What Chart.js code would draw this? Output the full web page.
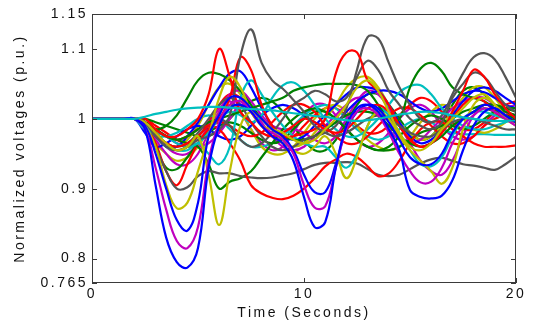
<!DOCTYPE html>
<html>
<head>
<meta charset="utf-8">
<title>Normalized voltages</title>
<script src="https://cdn.jsdelivr.net/npm/chart.js@4.4.1/dist/chart.umd.min.js"></script>
<style>
  html, body { margin: 0; padding: 0; background: #fff; }
  canvas { display: block; }
</style>
</head>
<body>
<canvas id="voltChart" width="534" height="325"></canvas>
<script>
// sample times (s), flat until the fault at 2 s
var time = [0, 1.5, 2, 2.5, 3, 3.5, 4, 4.5, 5, 5.5, 6, 6.5, 7, 7.5, 8, 8.5, 9, 9.5, 10, 10.5, 11, 11.5, 12, 12.5, 13, 13.5, 14, 14.5, 15, 15.5, 16, 16.5, 17, 17.5, 18, 18.5, 19, 19.5, 20];

var xTicks = [0, 10, 20];
var yTicks = [0.765, 0.8, 0.9, 1, 1.1, 1.15];
var yTickLabels = ['0.765', '0.8', '0.9', '1', '1.1', '1.15'];

// bus voltages (p.u.)
var blue1 = [1, 1, 1.0, 0.985, 0.905, 0.83, 0.795, 0.787, 0.815, 0.93, 0.99, 1.015, 1.02, 1.01, 0.99, 0.975, 0.965, 0.94, 0.888, 0.845, 0.852, 0.93, 0.99, 1.015, 1.02, 1.01, 0.985, 0.955, 0.898, 0.888, 0.886, 0.89, 0.912, 0.955, 0.99, 1.01, 1.015, 1.005, 0.995];
var blue2 = [1, 1, 1.0, 0.99, 0.95, 0.9, 0.855, 0.84, 0.88, 0.975, 1.005, 1.03, 1.03, 1.015, 1.0, 0.985, 0.975, 0.955, 0.92, 0.895, 0.895, 0.935, 0.985, 1.01, 1.02, 1.015, 0.995, 0.97, 0.945, 0.935, 0.935, 0.95, 0.98, 1.0, 1.01, 1.02, 1.015, 1.005, 0.995];
var blue3 = [1, 1, 1.0, 0.99, 0.975, 0.96, 0.96, 0.975, 0.995, 1.02, 1.045, 1.065, 1.068, 1.045, 1.015, 0.99, 0.975, 0.97, 0.975, 0.99, 1.005, 1.02, 1.035, 1.045, 1.045, 1.04, 1.02, 0.995, 0.975, 0.965, 0.97, 0.985, 1.005, 1.025, 1.04, 1.045, 1.04, 1.03, 1.02];
var blue4 = [1, 1, 1.0, 0.98, 0.96, 0.965, 0.975, 0.985, 0.99, 0.985, 0.975, 0.97, 0.975, 0.99, 1.005, 1.015, 1.02, 1.015, 1.005, 0.995, 0.99, 0.995, 1.01, 1.025, 1.035, 1.04, 1.04, 1.035, 1.025, 1.015, 1.01, 1.015, 1.025, 1.035, 1.04, 1.038, 1.03, 1.02, 1.015];

var magenta1 = [1, 1, 1.0, 0.985, 0.93, 0.87, 0.825, 0.815, 0.845, 0.94, 0.995, 1.02, 1.025, 1.01, 0.99, 0.98, 0.97, 0.95, 0.905, 0.873, 0.875, 0.93, 0.985, 1.01, 1.015, 1.005, 0.98, 0.95, 0.925, 0.909, 0.91, 0.93, 0.965, 0.99, 1.005, 1.015, 1.01, 1.0, 0.99];
var magenta2 = [1, 1, 1.0, 0.99, 0.97, 0.95, 0.935, 0.935, 0.95, 0.98, 1.01, 1.035, 1.04, 1.025, 1.005, 0.99, 0.985, 0.985, 0.98, 0.97, 0.965, 0.975, 1.0, 1.025, 1.04, 1.035, 1.015, 0.99, 0.965, 0.94, 0.925, 0.92, 0.94, 0.975, 1.005, 1.02, 1.02, 1.01, 1.0];
var magenta3 = [1, 1, 1.0, 0.995, 0.985, 0.975, 0.965, 0.96, 0.96, 0.965, 0.98, 1.0, 1.02, 1.015, 0.995, 0.975, 0.96, 0.955, 0.96, 0.975, 0.99, 1.005, 1.02, 1.03, 1.025, 1.005, 0.985, 0.97, 0.965, 0.97, 0.985, 1.0, 1.015, 1.025, 1.03, 1.03, 1.02, 1.01, 1.005];
var magenta4 = [1, 1, 1.0, 0.99, 0.975, 0.96, 0.95, 0.95, 0.965, 0.99, 1.015, 1.025, 1.01, 0.985, 0.965, 0.955, 0.96, 0.98, 1.005, 1.02, 1.02, 1.005, 0.985, 0.97, 0.96, 0.965, 0.98, 1.0, 1.015, 1.02, 1.01, 0.99, 0.975, 0.97, 0.975, 0.99, 1.005, 1.015, 1.02];

var yellow1 = [1, 1, 1.0, 0.99, 0.96, 0.905, 0.872, 0.88, 0.925, 0.975, 1.03, 1.06, 1.045, 1.01, 0.99, 0.985, 0.98, 0.97, 0.965, 0.97, 0.985, 1.0, 1.02, 1.045, 1.055, 1.04, 1.01, 0.98, 0.96, 0.955, 0.965, 0.985, 1.0, 1.015, 1.03, 1.035, 1.02, 1.0, 0.99];
var yellow2 = [1, 1, 1.0, 0.995, 0.98, 0.965, 0.955, 0.96, 0.975, 0.92, 0.848, 0.925, 0.99, 1.01, 1.0, 0.985, 0.97, 0.955, 0.95, 0.96, 0.975, 0.95, 0.915, 0.945, 0.99, 1.01, 1.0, 0.975, 0.955, 0.94, 0.925, 0.907, 0.93, 0.985, 1.02, 1.03, 1.02, 1.005, 0.995];
var yellow3 = [1, 1, 1.0, 0.995, 0.98, 0.965, 0.96, 0.97, 0.99, 1.02, 1.045, 1.05, 1.035, 1.01, 0.99, 0.975, 0.965, 0.96, 0.965, 0.98, 1.0, 1.02, 1.045, 1.058, 1.06, 1.045, 1.02, 0.995, 0.98, 0.97, 0.975, 0.99, 1.01, 1.03, 1.045, 1.045, 1.03, 1.01, 1.0];
var yellow4 = [1, 1, 1.0, 0.985, 0.965, 0.95, 0.94, 0.945, 0.96, 0.985, 1.01, 1.02, 1.01, 0.985, 0.96, 0.95, 0.95, 0.96, 0.98, 1.0, 1.015, 1.02, 1.01, 0.99, 0.97, 0.96, 0.955, 0.96, 0.975, 0.995, 1.01, 1.02, 1.015, 1.0, 0.985, 0.98, 0.985, 0.995, 1.005];

var green1 = [1, 1, 1.0, 0.995, 0.985, 0.975, 0.97, 0.965, 0.96, 0.935, 0.9, 0.91, 0.915, 0.925, 0.945, 0.965, 0.985, 1.0, 1.01, 1.015, 1.01, 1.0, 0.985, 0.97, 0.96, 0.955, 0.955, 0.96, 0.97, 0.98, 0.985, 0.99, 1.0, 1.01, 1.015, 1.02, 1.02, 1.015, 1.01];
var green2 = [1, 1, 1.0, 0.99, 0.96, 0.93, 0.928, 0.945, 0.965, 0.98, 0.99, 0.995, 0.99, 0.98, 0.97, 0.965, 0.97, 0.985, 1.0, 1.01, 1.01, 1.0, 0.985, 0.97, 0.96, 0.955, 0.96, 0.975, 0.99, 1.0, 1.005, 1.0, 0.99, 0.985, 0.99, 1.0, 1.01, 1.015, 1.015];
var green3 = [1, 1, 1.0, 0.995, 0.985, 0.975, 0.97, 0.975, 0.985, 0.995, 1.0, 1.005, 1.01, 1.015, 1.02, 1.025, 1.03, 1.04, 1.045, 1.048, 1.05, 1.05, 1.05, 1.048, 1.04, 1.02, 1.0, 1.0, 1.045, 1.072, 1.08, 1.068, 1.045, 1.035, 1.03, 1.025, 1.015, 1.01, 1.005];
var green4 = [1, 1, 1.0, 0.995, 0.985, 0.99, 1.005, 1.03, 1.055, 1.066, 1.064, 1.055, 1.04, 1.02, 1.0, 0.985, 0.975, 0.97, 0.97, 0.975, 0.985, 0.995, 1.005, 1.01, 1.01, 1.005, 0.99, 0.975, 0.965, 0.96, 0.965, 0.975, 0.99, 1.0, 1.01, 1.015, 1.01, 1.005, 1.0];
var green5 = [1, 1, 1.0, 1.0, 0.995, 0.99, 0.985, 0.98, 0.975, 0.975, 0.985, 1.0, 1.015, 1.025, 1.03, 1.025, 1.01, 0.99, 0.97, 0.955, 0.955, 0.97, 0.995, 1.02, 1.035, 1.035, 1.02, 1.0, 0.98, 0.97, 0.975, 0.995, 1.02, 1.04, 1.045, 1.035, 1.02, 1.005, 0.995];

var red1 = [1, 1, 1.0, 0.995, 0.985, 0.975, 0.97, 0.975, 0.985, 0.99, 0.985, 0.965, 0.94, 0.905, 0.893, 0.887, 0.885, 0.89, 0.9, 0.915, 0.932, 0.942, 0.95, 0.945, 0.932, 0.918, 0.922, 0.94, 0.965, 0.985, 0.995, 0.995, 0.985, 0.975, 0.965, 0.96, 0.96, 0.96, 0.962];
var red2 = [1, 1, 1.0, 0.99, 0.965, 0.925, 0.905, 0.935, 0.965, 0.985, 0.995, 0.99, 0.98, 0.975, 0.98, 0.995, 1.01, 1.02, 1.02, 1.01, 0.99, 0.975, 0.965, 0.965, 0.975, 0.99, 1.005, 1.015, 1.015, 1.005, 0.99, 0.975, 0.965, 0.965, 0.975, 0.99, 1.0, 1.005, 1.005];
var red3 = [1, 1, 1.0, 1.0, 0.985, 0.975, 0.975, 0.985, 1.0, 1.035, 1.1, 1.06, 1.01, 0.995, 0.98, 0.975, 0.98, 0.99, 1.0, 0.995, 0.985, 0.98, 0.985, 1.0, 1.015, 1.02, 1.01, 0.99, 0.97, 0.96, 0.965, 0.98, 1.0, 1.02, 1.03, 1.025, 1.01, 1.0, 0.995];
var red4 = [1, 1, 1.0, 0.995, 0.98, 0.965, 0.96, 0.965, 0.975, 0.99, 1.0, 1.03, 1.088, 1.07, 1.02, 0.99, 0.975, 0.975, 0.98, 0.985, 1.0, 1.065, 1.095, 1.095, 1.055, 1.04, 1.02, 0.99, 0.97, 0.96, 0.965, 0.98, 1.01, 1.04, 1.07, 1.06, 1.035, 1.015, 1.0];
var red5 = [1, 1, 1.0, 1.0, 0.99, 0.98, 0.97, 0.965, 0.975, 0.995, 1.02, 1.035, 1.03, 1.01, 0.99, 0.975, 0.97, 0.975, 0.99, 1.005, 1.015, 1.015, 1.005, 0.99, 0.98, 0.98, 0.99, 1.005, 1.02, 1.03, 1.025, 1.01, 0.995, 0.985, 0.985, 0.995, 1.01, 1.02, 1.025];

var cyan1 = [1, 1, 1.0, 1.003, 1.007, 1.01, 1.013, 1.015, 1.016, 1.017, 1.017, 1.016, 1.015, 1.014, 1.013, 1.012, 1.01, 1.008, 1.006, 1.004, 1.003, 1.0, 0.998, 0.997, 0.998, 1.0, 1.003, 1.006, 1.008, 1.01, 1.01, 1.008, 1.005, 1.002, 1.0, 0.998, 0.997, 0.997, 0.998];
var cyan2 = [1, 1, 1.0, 0.985, 0.98, 0.975, 0.965, 0.96, 0.965, 0.98, 1.0, 1.01, 1.005, 0.995, 1.005, 1.03, 1.048, 1.052, 1.04, 1.02, 1.0, 0.985, 0.975, 0.975, 0.985, 1.0, 1.02, 1.038, 1.047, 1.048, 1.035, 1.015, 1.0, 0.99, 0.985, 0.985, 0.99, 0.995, 1.0];
var cyan3 = [1, 1, 1.0, 0.99, 0.975, 0.96, 0.955, 0.955, 0.965, 0.95, 0.935, 0.96, 1.03, 1.055, 1.035, 1.01, 0.99, 0.975, 0.965, 0.96, 0.96, 0.945, 0.93, 0.95, 0.99, 1.015, 1.005, 0.98, 0.955, 0.935, 0.932, 0.945, 0.975, 1.0, 1.01, 1.01, 1.005, 1.0, 0.995];
var cyan4 = [1, 1, 1.0, 0.985, 0.975, 0.975, 0.98, 0.99, 1.0, 1.005, 1.0, 0.985, 0.97, 0.96, 0.96, 0.965, 0.975, 0.99, 1.005, 1.015, 1.02, 1.015, 1.0, 0.985, 0.975, 0.97, 0.975, 0.985, 0.995, 1.0, 0.995, 0.985, 0.98, 0.978, 0.978, 0.978, 0.977, 0.977, 0.977];

var gray1 = [1, 1, 1.0, 0.99, 0.96, 0.925, 0.9, 0.902, 0.918, 0.925, 0.922, 0.922, 0.918, 0.916, 0.915, 0.916, 0.919, 0.922, 0.928, 0.934, 0.937, 0.937, 0.938, 0.936, 0.928, 0.92, 0.918, 0.92, 0.928, 0.936, 0.942, 0.944, 0.94, 0.935, 0.933, 0.93, 0.927, 0.935, 0.946];
var gray2 = [1, 1, 1.0, 0.995, 0.975, 0.96, 0.955, 0.96, 0.97, 0.975, 0.985, 1.005, 1.09, 1.128, 1.08, 1.055, 1.043, 1.027, 1.01, 0.99, 0.98, 0.975, 0.98, 0.99, 1.0, 1.005, 1.0, 0.99, 0.98, 0.975, 0.975, 0.985, 0.995, 1.0, 1.0, 0.995, 0.99, 0.985, 0.985];
var gray3 = [1, 1, 1.0, 0.995, 0.98, 0.965, 0.96, 0.965, 0.98, 1.0, 1.02, 1.03, 1.02, 0.995, 0.975, 0.96, 0.955, 0.96, 0.97, 0.975, 0.98, 0.99, 1.015, 1.07, 1.117, 1.115, 1.08, 1.045, 1.02, 1.0, 0.995, 1.005, 1.035, 1.065, 1.088, 1.094, 1.085, 1.06, 1.03];
var gray4 = [1, 1, 1.0, 0.995, 0.975, 0.965, 0.955, 0.96, 0.975, 0.99, 1.0, 0.99, 0.97, 0.96, 0.965, 0.98, 1.0, 1.02, 1.03, 1.04, 1.035, 1.025, 1.03, 1.06, 1.083, 1.07, 1.04, 1.02, 1.0, 0.99, 0.985, 0.995, 1.03, 1.05, 1.066, 1.06, 1.04, 1.02, 1.01];

var BLUE = '#0000ff', GREEN = '#008000', RED = '#ff0000', CYAN = '#00bfbf',
    MAGENTA = '#bf00bf', YELLOW = '#bfbf00', GRAY = '#555555';

// first entry is drawn on top
var lines = [
  [cyan1, CYAN], [blue1, BLUE], [magenta1, MAGENTA], [blue2, BLUE], [yellow1, YELLOW],
  [yellow2, YELLOW], [gray2, GRAY], [red3, RED], [red4, RED], [gray3, GRAY],
  [gray4, GRAY], [green3, GREEN], [green4, GREEN], [cyan2, CYAN], [cyan3, CYAN],
  [red1, RED], [gray1, GRAY], [green1, GREEN], [red2, RED], [green2, GREEN],
  [blue3, BLUE], [blue4, BLUE], [magenta2, MAGENTA], [magenta3, MAGENTA], [yellow3, YELLOW],
  [yellow4, YELLOW], [cyan4, CYAN], [magenta4, MAGENTA], [green5, GREEN], [red5, RED]
];

var datasets = lines.map(function (l) {
  return {
    data: time.map(function (t, i) { return { x: t, y: l[0][i] }; }),
    borderColor: l[1],
    borderWidth: 2.2,
    pointRadius: 0,
    fill: false,
    tension: 0.4
  };
});

var textFont = { family: '"Liberation Sans", Arial, Helvetica, sans-serif', size: 14 };

// the labels are set wide, like the old plotting fonts
var wideText = {
  id: 'wideText',
  beforeUpdate: function (chart) { chart.ctx.letterSpacing = '2.5px'; },
  beforeDraw: function (chart) { chart.ctx.letterSpacing = '2.5px'; }
};

// box round the axes, ticks pointing inward on all four sides
var axisBox = {
  id: 'axisBox',
  afterDraw: function (chart) {
    var c = chart.ctx, a = chart.chartArea;
    var xs = chart.scales.x, ys = chart.scales.y;
    c.save();
    c.strokeStyle = '#3a3a3a';
    c.lineWidth = 1;
    c.strokeRect(a.left + 0.5, a.top + 0.5, a.right - a.left - 1, a.bottom - a.top - 1);
    c.beginPath();
    xTicks.forEach(function (v) {
      var px = Math.round(xs.getPixelForValue(v)) + 0.5;
      c.moveTo(px, a.bottom); c.lineTo(px, a.bottom - 5);
      c.moveTo(px, a.top); c.lineTo(px, a.top + 5);
    });
    yTicks.forEach(function (v) {
      var py = Math.round(ys.getPixelForValue(v)) + 0.5;
      c.moveTo(a.left, py); c.lineTo(a.left + 5, py);
      c.moveTo(a.right, py); c.lineTo(a.right - 5, py);
    });
    c.stroke();
    c.restore();
  }
};

var ctx = document.getElementById('voltChart').getContext('2d');
var chart = new Chart(ctx, {
  type: 'line',
  data: { datasets: datasets },
  options: {
    responsive: false,
    animation: false,
    devicePixelRatio: 1,
    layout: { padding: { top: 14, right: 18, left: 0, bottom: 0 } },
    plugins: {
      legend: { display: false },
      tooltip: { enabled: false }
    },
    scales: {
      x: {
        type: 'linear',
        min: 0,
        max: 20,
        grid: { display: false, drawTicks: false },
        border: { display: false },
        afterBuildTicks: function (scale) {
          scale.ticks = xTicks.map(function (v) { return { value: v }; });
        },
        afterFit: function (scale) { scale.height = 42; },
        ticks: {
          color: '#111',
          font: textFont,
          padding: 3,
          maxRotation: 0,
          autoSkip: false,
          callback: function (v) { return String(v); }
        },
        title: {
          display: true,
          text: 'Time (Seconds)',
          color: '#111',
          font: textFont,
          padding: { top: 0, bottom: 3.5 }
        }
      },
      y: {
        type: 'linear',
        min: 0.765,
        max: 1.15,
        grid: { display: false, drawTicks: false },
        border: { display: false },
        afterBuildTicks: function (scale) {
          scale.ticks = yTicks.map(function (v) { return { value: v }; });
        },
        afterFit: function (scale) { scale.width = 92; },
        ticks: {
          color: '#111',
          font: textFont,
          padding: 4,
          autoSkip: false,
          callback: function (v) {
            var i = yTicks.indexOf(v);
            return i >= 0 ? yTickLabels[i] : '';
          }
        },
        title: {
          display: true,
          text: 'Normalized voltages (p.u.)',
          color: '#111',
          font: textFont,
          padding: { top: 12, bottom: 0 }
        }
      }
    }
  },
  plugins: [wideText, axisBox]
});
</script>
</body>
</html>
